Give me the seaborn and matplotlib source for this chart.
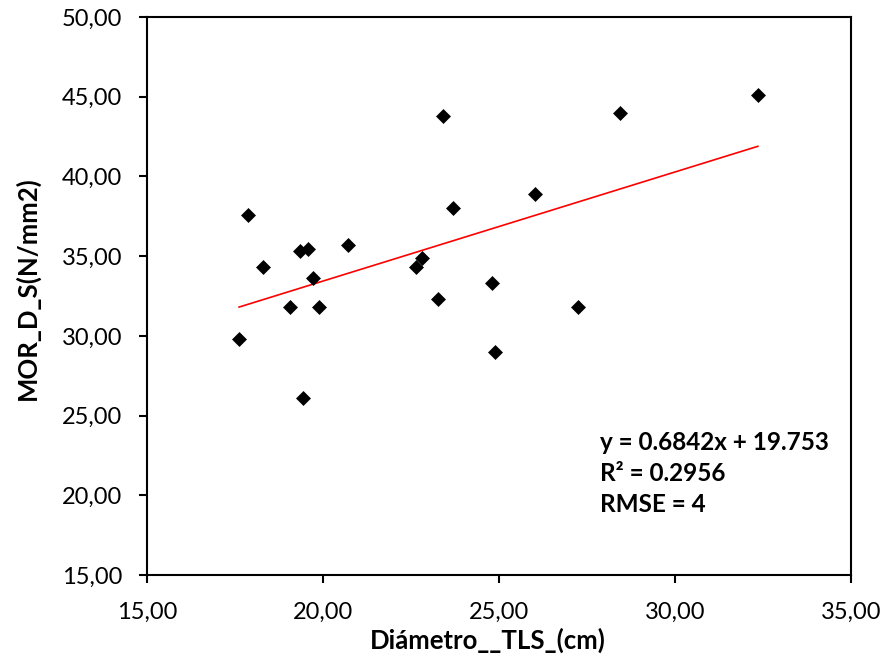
import matplotlib
matplotlib.use("Agg")
import matplotlib.pyplot as plt
import seaborn as sns
import numpy as np
import pandas as pd
from matplotlib.ticker import FuncFormatter, MultipleLocator

# Data
diametro = [17.61, 17.87, 18.30, 19.06, 19.35, 19.57, 19.72, 19.43, 19.89, 20.71,
            22.64, 22.81, 23.27, 23.41, 23.69, 24.80, 24.89, 26.02, 27.24, 28.44, 32.36]
mor = [29.83, 37.56, 34.35, 31.78, 35.30, 35.42, 33.66, 26.12, 31.78, 35.67,
       34.35, 34.86, 32.34, 43.78, 38.00, 33.29, 29.01, 38.88, 31.84, 43.97, 45.10]
slope = 0.6842
intercept = 19.753
eq_lines = ["y = 0.6842x + 19.753", "R² = 0.2956", "RMSE = 4"]

df = pd.DataFrame({"x": diametro, "y": mor})

sns.set_theme(style="white")
plt.rcParams['font.family'] = ['Lato', 'DejaVu Sans']

fig = plt.figure(figsize=(8.85, 6.56), dpi=100)
ax = fig.add_axes([147/885, 1-575/656, (851-147)/885, (575-17)/656])

sns.scatterplot(data=df, x="x", y="y", marker="D", s=58, color="black",
                linewidth=0, ax=ax, zorder=3)

xs = np.array([min(diametro), max(diametro)])
ax.plot(xs, slope*xs + intercept, color="red", lw=1.2, zorder=2)

ax.set_xlim(15, 35)
ax.set_ylim(15, 50)
ax.xaxis.set_major_locator(MultipleLocator(5))
ax.yaxis.set_major_locator(MultipleLocator(5))
fmt = FuncFormatter(lambda v, p: f"{v:.2f}".replace(".", ","))
ax.xaxis.set_major_formatter(fmt)
ax.yaxis.set_major_formatter(fmt)

for sp in ax.spines.values():
    sp.set_color("black")
    sp.set_linewidth(1.5)
ax.tick_params(axis="both", direction="out", length=6, width=1.5, color="black",
               labelsize=17, labelcolor="black", left=True, bottom=True)
ax.tick_params(axis="x", pad=13)
ax.tick_params(axis="y", pad=12)

ax.set_xlabel("Diámetro__TLS_(cm)", fontsize=18.5, fontweight="bold", color="black")
ax.set_ylabel("MOR_D_S(N/mm2)", fontsize=18.5, fontweight="bold", color="black")
ax.xaxis.set_label_coords(0.484, -0.094)
ax.yaxis.set_label_coords(-0.152, 0.515)

for i, t in enumerate(eq_lines):
    ax.text((600-147)/704, 1-(443-17)/558 - i*(31/558), t, transform=ax.transAxes,
            fontsize=17.5, fontweight="bold", color="black", va="center", ha="left")

fig.savefig("out.png", dpi=100)
